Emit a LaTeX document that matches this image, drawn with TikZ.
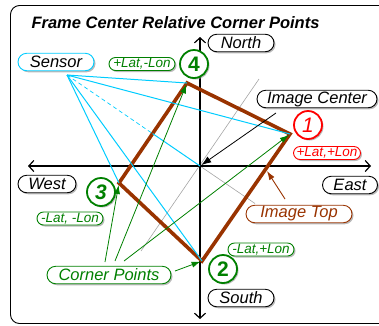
\documentclass[tikz,border=0pt]{standalone}
\usepackage{fontspec}
\setmainfont{Liberation Sans}
\usetikzlibrary{arrows.meta,shapes.misc,shadows,calc}
\definecolor{brn}{RGB}{153,51,0}
\definecolor{cyn}{RGB}{0,204,255}
\definecolor{grn}{RGB}{0,128,0}
\definecolor{rd}{RGB}{255,0,0}
\definecolor{gry}{RGB}{165,165,165}
\tikzset{
  shade box/.style={drop shadow={shadow xshift=1.5pt,shadow yshift=-1.5pt,fill=black!45,opacity=0.6}},
  tag/.style={rounded rectangle, draw=#1, fill=white, line width=0.9pt, inner sep=0pt,
    shade box, minimum height=17.5pt, font=\fontsize{16.5}{18}\selectfont\itshape},
  tag/.default=black,
  smalltag/.style={rounded rectangle, draw=#1, text=#1, fill=white, line width=0.9pt, inner sep=0pt,
    shade box, minimum height=13pt, minimum width=66pt, font=\fontsize{13.5}{15}\selectfont\itshape},
  numring/.style={circle, draw=#1, text=#1, fill=white, line width=1.8pt, inner sep=0pt,
    minimum size=28pt, shade box, font=\fontsize{21}{24}\selectfont\bfseries},
  axis/.style={line width=1.2pt, {Straight Barb[length=5pt,width=11pt]}-{Straight Barb[length=5pt,width=11pt]}},
  sight/.style={cyn, line width=1pt},
  pointer/.style={grn, line width=0.8pt, -{Latex[length=9pt,width=6pt]}},
}
\begin{document}
\begin{tikzpicture}[x=1pt,y=-1pt]
\useasboundingbox (0,0) rectangle (379,325);

% outer frame
\draw[line width=0.9pt, rounded corners=9pt] (10.5,5.5) rectangle (400,323.5);

% title
\node[font=\fontsize{16.5}{18}\selectfont\bfseries\itshape] (title) at (175.5,22.5) {Frame Center Relative Corner Points};

% reference points
\coordinate (o)  at (200,166);
\coordinate (s0) at (67,75);
\coordinate (c1) at (290,134);
\coordinate (c2) at (202,261);
\coordinate (c3) at (119,183);
\coordinate (c4) at (187,83);
\coordinate (axW) at (28,166);
\coordinate (axE) at (371,166);
\coordinate (axN) at (200,37);
\coordinate (axS) at (200,319);
\coordinate (g1) at (259,79);
\coordinate (g2) at (141,251);
\coordinate (g3) at (255,203.5);
\coordinate (edge) at ($(s0)!0.6437!(o)$);

% image orientation and line of sight continuation
\draw[gry, line width=0.6pt] (g1) -- (g2);
\draw[gry, line width=0.6pt] (o) -- (g3);

% axes
\draw[axis] (axW) -- (axE);
\draw[axis] (axS) -- (axN);

% image footprint
\draw[brn, line width=3.6pt, line join=miter] (c1) -- (c2) -- (c3) -- (c4) -- cycle;

% sensor lines of sight
\draw[sight] (s0) -- (c4);
\draw[sight] (s0) -- (c1);
\draw[sight] (s0) -- (c3);
\draw[sight] (s0) -- (c2);
\draw[cyn, line width=0.7pt, dash pattern=on 4pt off 3pt] (s0) -- (edge);
\draw[sight] (edge) -- (o);

% labels
\node[tag=cyn, minimum width=76pt] (sensor) at (56,62) {Sensor};
\node[tag, minimum width=66pt] (north) at (241,43) {North};
\node[tag, minimum width=66pt] (south) at (241,298) {South};
\node[tag, minimum width=58pt] (west) at (47,184) {West};
\node[tag, minimum width=55pt] (east) at (350,185) {East};
\node[tag, minimum width=120pt] (icenter) at (317,99) {Image Center};
\node[tag=brn, text=brn, minimum width=106pt] (itop) at (299,214) {Image Top};
\node[tag=grn, text=grn, minimum width=124pt] (cpts) at (109,275) {Corner Points};

\node[smalltag=grn] (q4) at (142,64) {+Lat,-Lon};
\node[smalltag=rd] (q1) at (327,153) {+Lat,+Lon};
\node[smalltag=grn] (q3) at (70,218.5) {-Lat, -Lon};
\node[smalltag=grn] (q2) at (261,249.5) {-Lat,+Lon};

\node[numring=grn] (n4) at (194,64) {4};
\node[numring=rd, font=\fontsize{21}{24}\selectfont\itshape] (n1) at (308,125) {1};
\node[numring=grn, font=\fontsize{21}{24}\selectfont\bfseries\itshape] (n3) at (101,192) {3};
\node[numring=grn] (n2) at (223,269) {2};

% pointers
\coordinate (ica) at (276,113);
\draw[line width=0.8pt, -{Latex[length=10pt,width=7pt]}, shorten >=1.5pt] (ica) -- (o);
\coordinate (ita) at (285,199);
\coordinate (itb) at (267,171);
\draw[brn, line width=0.9pt, -{Latex[length=9pt,width=6pt]}] (ita) -- (itb);

\coordinate (cpa) at (105,262);
\coordinate (cpb) at (115,261);
\coordinate (cpc) at (124,261);
\coordinate (cpd) at (175,271);
\draw[pointer, shorten >=2pt] (cpa) -- (c3);
\draw[pointer, shorten >=1.5pt] (cpb) -- (c4);
\draw[pointer, shorten >=1.5pt] (cpc) -- (c1);
\draw[pointer, shorten >=1.5pt] (cpd) -- (c2);
\end{tikzpicture}
\end{document}
